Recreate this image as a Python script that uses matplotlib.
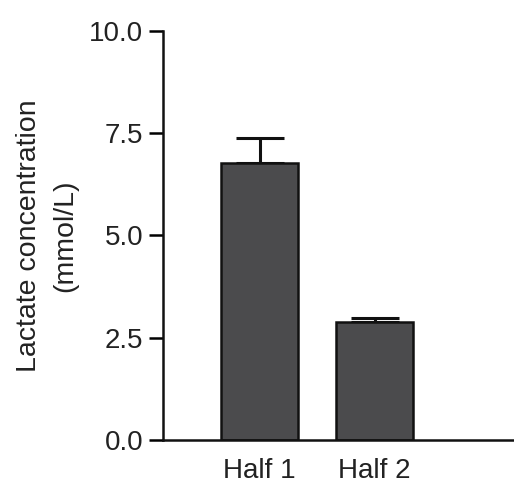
import matplotlib
matplotlib.use("Agg")
import matplotlib.pyplot as plt

categories = ["Half 1", "Half 2"]
means = [6.78, 2.88]
errors = [0.6, 0.11]
yticks = [0.0, 2.5, 5.0, 7.5, 10.0]
ytick_labels = ["0.0", "2.5", "5.0", "7.5", "10.0"]

plt.rcParams['font.family'] = ['Liberation Sans', 'DejaVu Sans']

fig = plt.figure(figsize=(5.14, 4.84), dpi=100)
ax = fig.add_axes([0.317, 0.091, 0.683, 0.845])

x = list(range(len(categories)))
ax.bar(x, means, width=0.67, color="#4b4b4d", edgecolor="#111111", linewidth=1.8, zorder=2)
ax.errorbar(x, means, yerr=[[0, 0], errors], fmt="none", ecolor="#111111",
            elinewidth=2.2, capsize=17, capthick=2.2, zorder=1)

ax.set_ylim(0, 10)
ax.set_xlim(-0.84, 2.21)
ax.set_yticks(yticks)
ax.set_yticklabels(ytick_labels, fontsize=20, color="#222222")
ax.set_xticks(x)
ax.set_xticklabels(categories, fontsize=20, color="#222222")
ax.tick_params(axis="y", length=10, width=1.8, pad=4)
ax.tick_params(axis="x", length=0, pad=13)
for s in ["top", "right"]:
    ax.spines[s].set_visible(False)
for s in ["left", "bottom"]:
    ax.spines[s].set_linewidth(1.8)
    ax.spines[s].set_color("#111111")

ax.set_ylabel("Lactate concentration\n(mmol/L)", fontsize=20.5, color="#222222", labelpad=8, linespacing=1.5)

fig.savefig("out.png", dpi=100)
